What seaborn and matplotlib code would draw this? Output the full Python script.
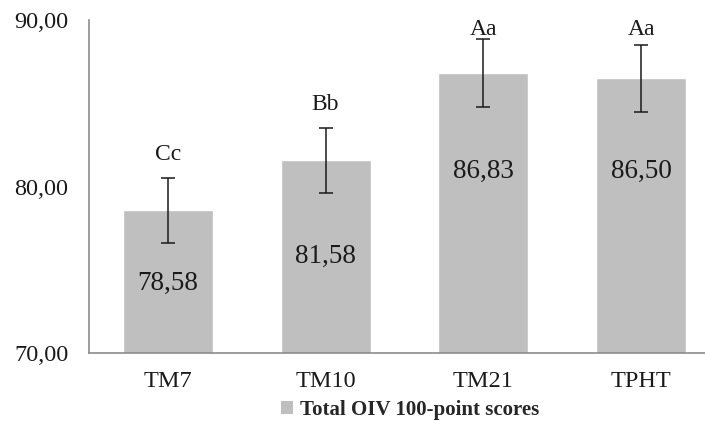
import matplotlib
matplotlib.use("Agg")
import matplotlib.pyplot as plt
import seaborn as sns
import pandas as pd
from matplotlib.patches import Patch

categories = ["TM7", "TM10", "TM21", "TPHT"]
scores = [78.58, 81.58, 86.83, 86.50]
errors = [1.95, 1.95, 2.05, 2.0]
letters = ["Cc", "Bb", "Aa", "Aa"]
value_labels = ["78,58", "81,58", "86,83", "86,50"]
yticks = [70, 80, 90]
ytick_labels = ["70,00", "80,00", "90,00"]
legend_label = "Total OIV 100-point scores"

sns.set_theme(style="white")
plt.rcParams["font.family"] = ["Liberation Serif", "DejaVu Serif"]

df = pd.DataFrame({"cat": categories, "score": scores})

fig = plt.figure(figsize=(7.05, 4.21), dpi=100)
ax = fig.add_axes([0.1262, 0.1615, 0.895, 0.791])
bar_color = "#bfbfbf"
sns.barplot(data=df, x="cat", y="score", color=bar_color, width=0.57,
            errorbar=None, ax=ax, saturation=1)
xs = range(len(categories))
ax.errorbar(list(xs), scores, yerr=errors, fmt="none", ecolor="#1a1a1a",
            elinewidth=1.1, capsize=5, capthick=1.1)

ax.set_ylim(70, 90)
ax.set_xlim(-0.5, len(categories) - 0.5)
ax.set_yticks(yticks)
ax.set_yticklabels(ytick_labels)
ax.tick_params(axis="both", length=0, labelsize=17.5, colors="#1a1a1a")
ax.tick_params(axis="y", pad=15)
ax.tick_params(axis="x", pad=13)
ax.set_xlabel("")
ax.set_ylabel("")
for s in ["top", "right"]:
    ax.spines[s].set_visible(False)
for s in ["left", "bottom"]:
    ax.spines[s].set_color("#8c8c8c")
    ax.spines[s].set_linewidth(1.2)

# letters above error bars
for i, (m, e, t) in enumerate(zip(scores, errors, letters)):
    y = min(m + e + 1.4, 89.4)
    ax.text(i, y, t, ha="center", va="center", fontsize=17, color="#1a1a1a")

# value labels inside bars
label_y = [74.2, 75.8, 80.9, 80.9]
for i, (t, y) in enumerate(zip(value_labels, label_y)):
    ax.text(i, y, t, ha="center", va="center", fontsize=19.5, color="#1a1a1a")

handle = Patch(facecolor=bar_color, edgecolor="none")
fig.legend([handle], [legend_label], loc="center",
           bbox_to_anchor=(410 / 705, 1 - 410 / 421), frameon=False,
           borderpad=0, borderaxespad=0,
           prop={"weight": "bold", "size": 15, "family": "Liberation Serif"},
           handlelength=0.6, handleheight=0.6, handletextpad=0.3)

fig.savefig("out.png", dpi=100)
